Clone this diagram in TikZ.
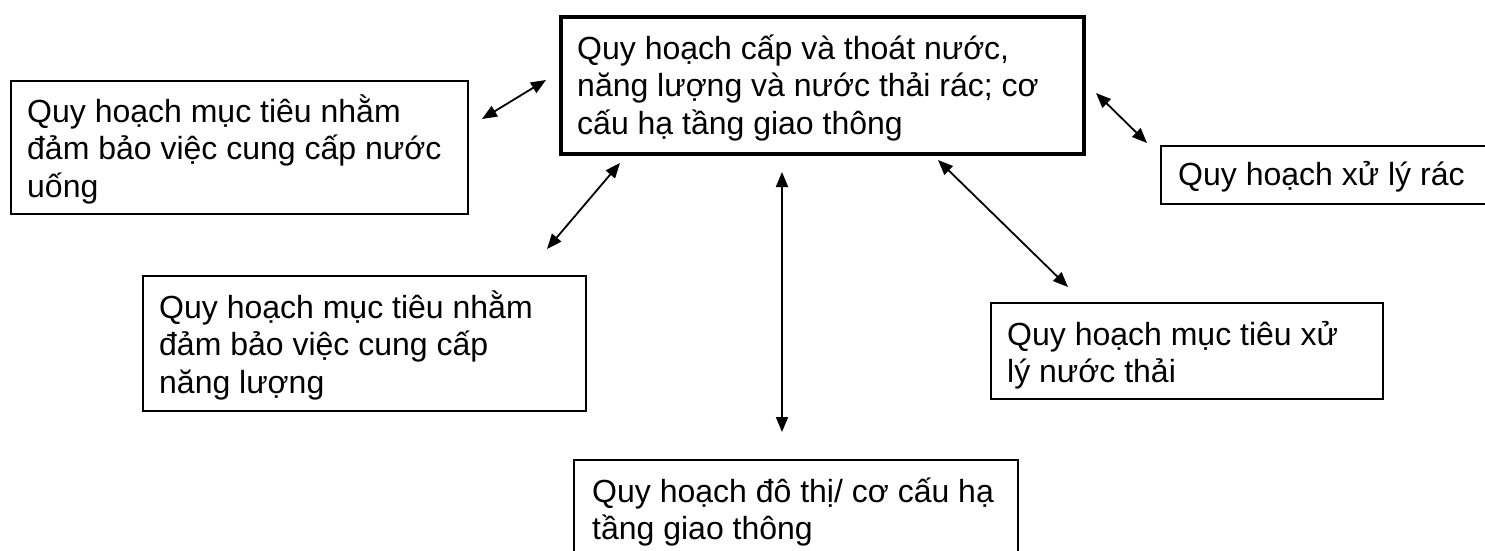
\documentclass[tikz,border=0pt]{standalone}
\usepackage{fontspec}
\setmainfont{Liberation Sans}
\usetikzlibrary{arrows.meta}
\begin{document}
\begin{tikzpicture}[x=1pt,y=-1pt,
  box/.style={draw, line width=1.5pt, inner sep=0pt, anchor=north west},
  mainbox/.style={draw, line width=4pt, inner sep=0pt, anchor=north west},
  txt/.style={anchor=base west, align=left, inner sep=0pt, font=\fontsize{32}{37.5}\selectfont},
  link/.style={line width=1.8pt, {Triangle[length=15pt,width=12pt]}-{Triangle[length=15pt,width=12pt]}}]
\useasboundingbox (0,0) rectangle (1485,551);
% boxes
\node[mainbox, minimum width=523pt, minimum height=137pt] (central) at (559,15) {};
\node[box, minimum width=457pt, minimum height=133pt] (water) at (10,80) {};
\node[box, minimum width=360pt, minimum height=58pt] (waste) at (1160,145) {};
\node[box, minimum width=443pt, minimum height=135pt] (energy) at (142,275) {};
\node[box, minimum width=392pt, minimum height=96pt] (sewage) at (990,302) {};
\node[box, minimum width=444pt, minimum height=120pt] (urban) at (573,459) {};
% texts (anchored at the baseline of their last line)
\node[txt] (tcentral) at (577,134) {Quy hoạch cấp và thoát nước,\\năng lượng và nước thải rác; cơ\\cấu hạ tầng giao thông};
\node[txt] (twater) at (27,197) {Quy hoạch mục tiêu nhằm\\đảm bảo việc cung cấp nước\\uống};
\node[txt] (twaste) at (1178,185) {Quy hoạch xử lý rác};
\node[txt] (tenergy) at (159,393) {Quy hoạch mục tiêu nhằm\\đảm bảo việc cung cấp\\năng lượng};
\node[txt] (tsewage) at (1007,382.5) {Quy hoạch mục tiêu xử\\lý nước thải};
\node[txt] (turban) at (592,539.5) {Quy hoạch đô thị/ cơ cấu hạ\\tầng giao thông};
% connector ends
\coordinate (a1) at (482,119); \coordinate (b1) at (546,80);
\coordinate (a2) at (1096,93); \coordinate (b2) at (1147,143);
\coordinate (a3) at (620,163); \coordinate (b3) at (547,249);
\coordinate (a4) at (782,172); \coordinate (b4) at (782,432);
\coordinate (a5) at (938,160); \coordinate (b5) at (1068,287);
\draw[link] (a1) -- (b1);
\draw[link] (a2) -- (b2);
\draw[link] (a3) -- (b3);
\draw[link] (a4) -- (b4);
\draw[link] (a5) -- (b5);
\end{tikzpicture}
\end{document}
